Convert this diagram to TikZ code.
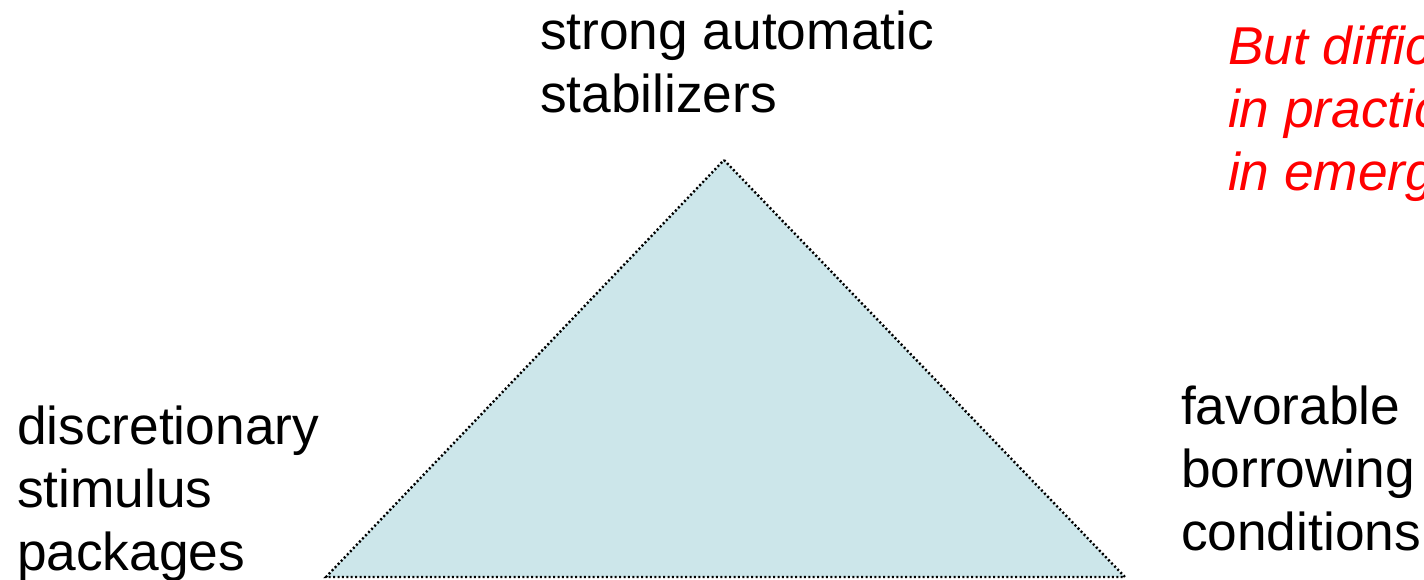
\documentclass[tikz,border=0pt]{standalone}
\usepackage{fontspec}
\setmainfont{Liberation Sans}
\definecolor{trifill}{RGB}{204,230,234}
\definecolor{notered}{RGB}{255,0,0}
\begin{document}
\begin{tikzpicture}[x=1pt,y=-1pt,
  lbl/.style={inner sep=0pt,outer sep=0pt,anchor=base west,align=left,font=\fontsize{53.3}{63}\selectfont},
  note/.style={lbl,text=notered,font=\fontsize{53.3}{63}\selectfont\itshape},
  tri/.style={fill=trifill,draw=black,line width=2.4pt,dash pattern=on 2pt off 2.4pt}]
\useasboundingbox (0,0) rectangle (1424,580);
\clip (0,0) rectangle (1424,580);
\coordinate (apex) at (724,160);
\coordinate (bl) at (326,577);
\coordinate (br) at (1125,577);
\draw[tri] (apex) -- (br) -- (bl) -- cycle;
\node[lbl] (top) at (540,113) {strong automatic\\stabilizers};
\node[lbl] (left) at (17,570) {discretionary\\stimulus\\packages};
\node[lbl] (right) at (1181,550) {favorable\\borrowing\\conditions};
\node[note] (red) at (1228,191) {But difficult\\in practice\\in emergencies};
\end{tikzpicture}
\end{document}
